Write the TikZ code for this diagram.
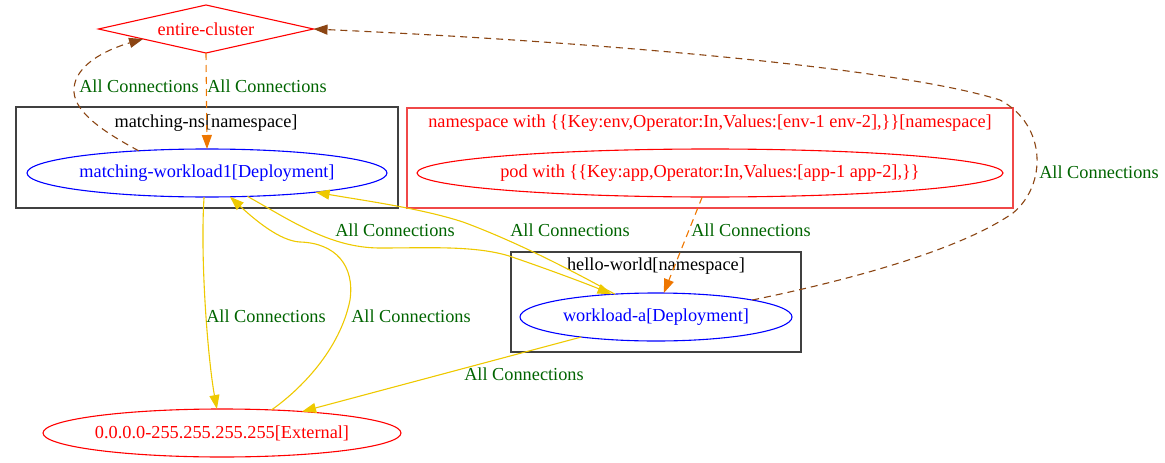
\documentclass[tikz,border=0pt]{standalone}
\usepackage{fontspec}
\setmainfont{Liberation Serif}
\usetikzlibrary{arrows.meta,shapes.geometric}
\definecolor{ebrown}{RGB}{139,69,19}
\definecolor{eorange}{RGB}{238,118,0}
\definecolor{eyellow}{RGB}{238,201,0}
\definecolor{lgreen}{RGB}{0,100,0}
\definecolor{cgray}{RGB}{64,64,64}
\definecolor{cred}{RGB}{240,72,72}
\tikzset{
  ell/.style={ellipse, draw, line width=1.1pt, inner sep=0pt, outer sep=0pt},
  clusterbox/.style={draw, line width=1.4pt, inner sep=0pt, outer sep=0pt},
  lbl/.style={text=lgreen, inner sep=0pt},
  dep/.style={ell, draw=blue, text=blue},
  extn/.style={ell, draw=red, text=red},
  brownedge/.style={draw=ebrown, line width=1.1pt, dash pattern=on 7pt off 5pt, -{Triangle[length=14pt,width=10pt,fill=ebrown]}},
  orangeedge/.style={draw=eorange, line width=1.1pt, dash pattern=on 7pt off 5pt, -{Triangle[length=14pt,width=10pt,fill=eorange]}},
  yellowedge/.style={draw=eyellow, line width=1.1pt, -{Triangle[length=14pt,width=10pt,fill=eyellow]}},
}
\begin{document}
\begin{tikzpicture}[x=1pt,y=-1pt,font=\fontsize{18.3}{22}\selectfont]
\useasboundingbox (0,0) rectangle (1165,463);
% clusters
\node[clusterbox, draw=cgray, minimum width=382pt, minimum height=101pt] (c1) at (207,157.5) {};
\node[inner sep=0pt] (c1lab) at (206,123) {matching-ns[namespace]};
\node[clusterbox, draw=cred, minimum width=606pt, minimum height=100pt] (c2) at (710,158) {};
\node[inner sep=0pt, text=red] (c2lab) at (710,123) {namespace with \{\{Key:env,Operator:In,Values:[env-1 env-2],\}\}[namespace]};
\node[clusterbox, draw=cgray, minimum width=290pt, minimum height=100pt] (c3) at (656,302) {};
\node[inner sep=0pt] (c3lab) at (656,266) {hello-world[namespace]};
% nodes
\node[diamond, draw=red, text=red, line width=1.1pt, aspect=4.48, minimum width=215pt, minimum height=48pt, inner sep=0pt, outer sep=0pt] (ec) at (206,29) {\makebox[0pt]{entire-cluster}};
\node[dep, minimum width=360pt, minimum height=48pt] (mw) at (207,173) {\makebox[0pt]{matching-workload1[Deployment]}};
\node[extn, minimum width=586pt, minimum height=48pt] (pod) at (710,173) {\makebox[0pt]{pod with \{\{Key:app,Operator:In,Values:[app-1 app-2],\}\}}};
\node[dep, minimum width=272pt, minimum height=48pt] (wa) at (656,317) {\makebox[0pt]{workload-a[Deployment]}};
\node[extn, minimum width=358pt, minimum height=48pt] (ext) at (222,433) {\makebox[0pt]{0.0.0.0-255.255.255.255[External]}};
% edges
\draw[brownedge] (mw.162) .. controls (100,130) and (72,110) .. (74,88) .. controls (76,65) and (105,50) .. (ec.189);
\draw[orangeedge] (ec.south) -- (mw.north);
\draw[yellowedge] (mw.263) .. controls (200,260) and (208,360) .. (ext.102);
\draw[yellowedge] (ext.25) .. controls (300,390) and (340,350) .. (350,300) .. controls (355,265) and (335,243) .. (300,242) .. controls (280,241) and (255,220) .. (mw.314);
\draw[yellowedge] (mw.330) .. controls (290,220) and (330,248) .. (380,248) .. controls (430,248) and (480,245) .. (515,258) .. controls (550,270) and (590,285) .. (wa.153);
\draw[yellowedge] (wa.151) .. controls (580,275) and (520,243) .. (463,222) .. controls (420,208) and (360,200) .. (mw.350);
\draw[orangeedge] (pod.252) -- (wa.72);
\draw[yellowedge] (wa.195) -- (ext.15);
\draw[brownedge] (wa.10) .. controls (850,280) and (960,250) .. (1013,213) .. controls (1047,185) and (1047,125) .. (1000,100) .. controls (900,68) and (600,42) .. (ec.east);
% labels
\node[lbl] (l1) at (139,86) {All Connections};
\node[lbl] (l2) at (267,86) {All Connections};
\node[lbl] (l3) at (395,230) {All Connections};
\node[lbl] (l4) at (570,230) {All Connections};
\node[lbl] (l5) at (751,230) {All Connections};
\node[lbl] (l6) at (266,316) {All Connections};
\node[lbl] (l7) at (411,316) {All Connections};
\node[lbl] (l8) at (524,374) {All Connections};
\node[lbl] (l9) at (1099,172) {All Connections};
\end{tikzpicture}
\end{document}
